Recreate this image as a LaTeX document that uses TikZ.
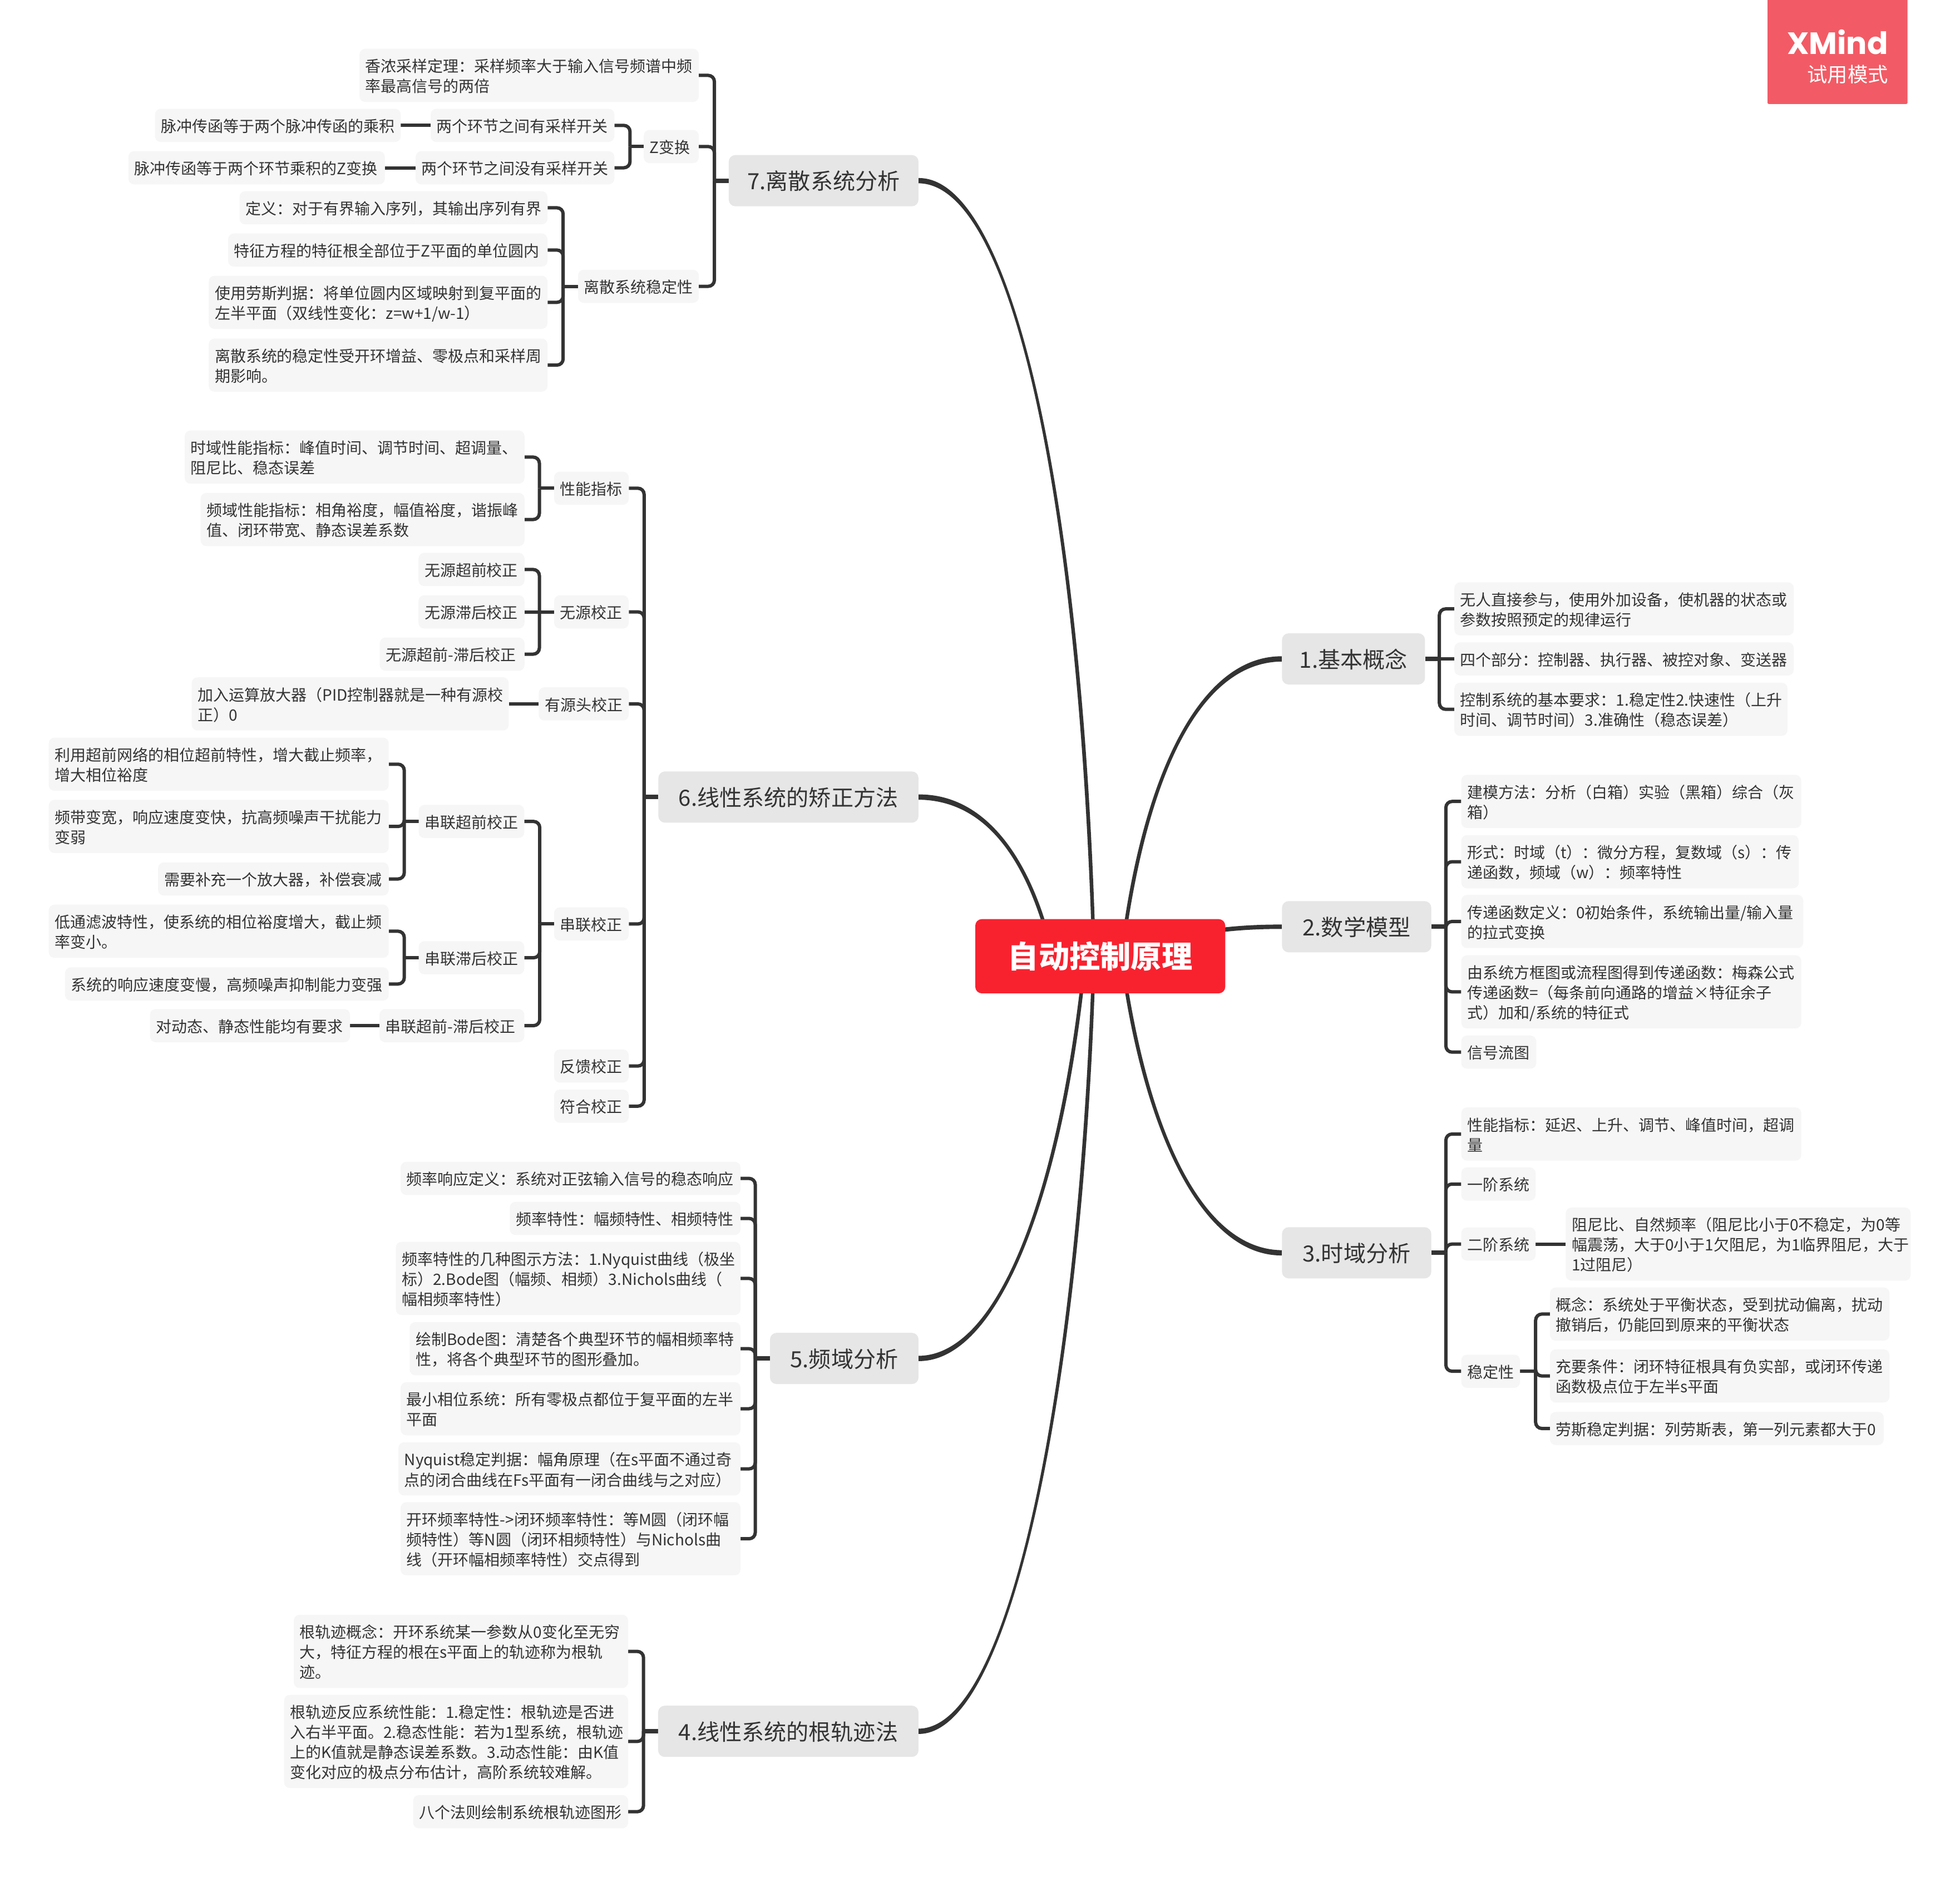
\documentclass[tikz,border=0pt]{standalone}
\usepackage{fontspec}
\usetikzlibrary{calc,backgrounds}
\setmainfont{Noto Sans CJK SC}
\newfontfamily\wmfont{Poppins}
\definecolor{linecol}{HTML}{333333}
\definecolor{leaffill}{HTML}{F6F6F6}
\definecolor{topicfill}{HTML}{E6E6E6}
\definecolor{rootfill}{HTML}{F8222F}
\definecolor{wmfill}{HTML}{F25B65}
\def\ux{2.84528}
\newcommand{\mystrut}{\rule[-0.16\baselineskip]{0pt}{\baselineskip}}
\newcommand{\mystrutb}{\rule[-0.2\baselineskip]{0pt}{\baselineskip}}
\tikzset{
  x=0.1cm,y=-0.1cm,
  leaf/.style={rectangle,rounded corners=13pt,fill=leaffill,text=linecol,inner sep=0pt,align=left,
    font=\fontsize{35.45pt}{45.5pt}\selectfont,execute at begin node=\mystrut,execute at end node=\mystrut},
  topic/.style={rectangle,rounded corners=15pt,fill=topicfill,text=linecol,inner sep=0pt,
    minimum height=116.5pt,font=\fontsize{50.8pt}{68pt}\selectfont,execute at begin node=\mystrutb},
  rootnode/.style={rectangle,rounded corners=15pt,fill=rootfill,text=white,inner sep=0pt,
    font=\fontsize{70pt}{90pt}\selectfont\bfseries,execute at begin node=\mystrutb},
  conn/.style={draw=linecol,line width=7.6pt},
  topconn/.style={draw=linecol,line width=10pt},
  wmbox/.style={rectangle,fill=wmfill,rounded corners=3pt,inner sep=0pt},
  wmtext/.style={text=white,inner sep=0pt},
}
% \leaf{name}{left}{right}{centre y}{number of lines}{text}
\newcommand{\leaf}[6]{%
  \pgfmathsetmacro\lcx{(#2+#3)/2}%
  \pgfmathsetmacro\lw{(#3-#2)*\ux}%
  \pgfmathsetmacro\lh{(26.5+16*(#5-1))*\ux}%
  \pgfmathsetmacro\ltw{(#3-#2-9.6)*\ux}%
  \node[leaf,minimum width=\lw pt,minimum height=\lh pt,text width=\ltw pt] (#1) at (\lcx,#4) {#6};}
% \topicn{name}{left}{right}{centre y}{text}
\newcommand{\topicn}[5]{%
  \pgfmathsetmacro\lcx{(#2+#3)/2}%
  \pgfmathsetmacro\lw{(#3-#2)*\ux}%
  \node[topic,minimum width=\lw pt] (#1) at (\lcx,#4) {#5};}
% connectors: parent stub to spine, spine to child
\newcommand{\stubL}[3][conn]{\draw[#1] (#2.west) -- (#3 |- #2.west);}
\newcommand{\stubR}[3][conn]{\draw[#1] (#2.east) -- (#3 |- #2.east);}
\newcommand{\kidL}[3]{\draw[conn,rounded corners=14pt] (#3 |- #1.west) |- (#2.east);}
\newcommand{\kidR}[3]{\draw[conn,rounded corners=14pt] (#3 |- #1.east) |- (#2.west);}
\newcommand{\kidLs}[3]{\draw[conn] (#3 |- #2.east) -- (#2.east);}
\newcommand{\kidRs}[3]{\draw[conn] (#3 |- #2.west) -- (#2.west);}
% tapered main branch: anchor, control 1, control 2, x offset at root, side
\newcommand{\mainc}[5]{%
  \fill[linecol] ($(#1)+(0,-2.1)$) .. controls ($(#2)+(0,-2.6)$) and ($(#3)+({1.9*#5},0)$) ..
    ($(root.center)+({#4+1.4*#5},0)$) -- ($(root.center)+({#4-1.4*#5},0)$)
    .. controls ($(#3)+({-1.9*#5},0)$) and ($(#2)+(0,2.6)$) .. ($(#1)+(0,2.1)$) -- cycle;}
\begin{document}
\begin{tikzpicture}
\useasboundingbox (0,0) rectangle (1568,1501.2);

% watermark
\node[wmbox,minimum width=318.7pt,minimum height=240pt] (wm) at (1470,41) {};
\node[wmtext,anchor=base east,font=\fontsize{70pt}{90pt}\wmfont\bfseries] (wm1) at (1510.5,43.5) {XMind};
\node[wmtext,anchor=east,font=\fontsize{46pt}{60pt}\selectfont] (wm2) at (1510.5,59.5) {试用模式};

% root
\node[rootnode,minimum width=569pt,minimum height=169pt] (root) at (880.2,764.8) {自动控制原理};

% topics
\topicn{t1}{1025.6}{1140}{527}{1.基本概念}
\topicn{t2}{1025.6}{1145}{741.2}{2.数学模型}
\topicn{t3}{1025.6}{1145}{1002}{3.时域分析}
\topicn{t4}{526.5}{734.8}{1384.7}{4.线性系统的根轨迹法}
\topicn{t5}{616}{734.8}{1086.5}{5.频域分析}
\topicn{t6}{526.7}{734.8}{637.5}{6.线性系统的矫正方法}
\topicn{t7}{583}{734.8}{144.5}{7.离散系统分析}

% topic 1
\leaf{a1}{1163.5}{1435}{487}{2}{无人直接参与，使用外加设备，使机器的状态或\\参数按照预定的规律运行}
\leaf{a2}{1163.5}{1435}{527}{1}{四个部分：控制器、执行器、被控对象、变送器}
\leaf{a3}{1163.5}{1430}{567.3}{2}{控制系统的基本要求：1.稳定性2.快速性（上升\\时间、调节时间）3.准确性（稳态误差）}

% topic 2
\leaf{b1}{1169}{1441}{641}{2}{建模方法：分析（白箱）实验（黑箱）综合（灰\\箱）}
\leaf{b2}{1169}{1439}{689.2}{2}{形式：时域（t）：微分方程，复数域（s）：传\\递函数，频域（w）：频率特性}
\leaf{b3}{1169}{1442.6}{737}{2}{传递函数定义：0初始条件，系统输出量/输入量\\的拉式变换}
\leaf{b4}{1169}{1441}{793.3}{3}{由系统方框图或流程图得到传递函数：梅森公式\\传递函数=（每条前向通路的增益×特征余子\\式）加和/系统的特征式}
\leaf{b5}{1169}{1229}{841.5}{1}{信号流图}

% topic 3
\leaf{c1}{1169}{1441}{907}{2}{性能指标：延迟、上升、调节、峰值时间，超调\\量}
\leaf{c2}{1169}{1228.5}{947}{1}{一阶系统}
\leaf{c3}{1169}{1228.5}{995}{1}{二阶系统}
\leaf{c31}{1252.6}{1528.5}{995}{3}{阻尼比、自然频率（阻尼比小于0不稳定，为0等\\幅震荡，大于0小于1欠阻尼，为1临界阻尼，大于\\1过阻尼）}
\leaf{c4}{1169}{1216}{1096.7}{1}{稳定性}
\leaf{c41}{1240}{1511.6}{1051}{2}{概念：系统处于平衡状态，受到扰动偏离，扰动\\撤销后，仍能回到原来的平衡状态}
\leaf{c42}{1240}{1511.6}{1100.5}{2}{充要条件：闭环特征根具有负实部，或闭环传递\\函数极点位于左半s平面}
\leaf{c43}{1240}{1507}{1142.5}{1}{劳斯稳定判据：列劳斯表，第一列元素都大于0}

% topic 4
\leaf{d1}{235}{502.5}{1320.8}{3}{根轨迹概念：开环系统某一参数从0变化至无穷\\大，特征方程的根在s平面上的轨迹称为根轨\\迹。}
\leaf{d2}{227.3}{502.5}{1392.8}{4}{根轨迹反应系统性能：1.稳定性：根轨迹是否进\\入右半平面。2.稳态性能：若为1型系统，根轨迹\\上的K值就是静态误差系数。3.动态性能：由K值\\变化对应的极点分布估计，高阶系统较难解。}
\leaf{d3}{330.5}{502.5}{1449}{1}{八个法则绘制系统根轨迹图形}

% topic 5
\leaf{e1}{320.5}{592.4}{942.5}{1}{频率响应定义：系统对正弦输入信号的稳态响应}
\leaf{e2}{407.8}{592.4}{974.5}{1}{频率特性：幅频特性、相频特性}
\leaf{e3}{316.7}{592.4}{1022.5}{3}{频率特性的几种图示方法：1.Nyquist曲线（极坐\\标）2.Bode图（幅频、相频）3.Nichols曲线（\\幅相频率特性）}
\leaf{e4}{327.7}{592.4}{1078.7}{2}{绘制Bode图：清楚各个典型环节的幅相频率特\\性，将各个典型环节的图形叠加。}
\leaf{e5}{320.5}{592.4}{1126.7}{2}{最小相位系统：所有零极点都位于复平面的左半\\平面}
\leaf{e6}{318.7}{592.4}{1174.8}{2}{Nyquist稳定判据：幅角原理（在s平面不通过奇\\点的闭合曲线在Fs平面有一闭合曲线与之对应）}
\leaf{e7}{320.5}{592.4}{1230.7}{3}{开环频率特性->闭环频率特性：等M圆（闭环幅\\频特性）等N圆（闭环相频特性）与Nichols曲\\线（开环幅相频率特性）交点得到}

% topic 6
\leaf{f1}{443.3}{503}{390.5}{1}{性能指标}
\leaf{f11}{147.8}{419.6}{365.6}{2}{时域性能指标：峰值时间、调节时间、超调量、\\阻尼比、稳态误差}
\leaf{f12}{160.5}{419.6}{415.5}{2}{频域性能指标：相角裕度，幅值裕度，谐振峰\\值、闭环带宽、静态误差系数}
\leaf{f2}{443.3}{503}{489.4}{1}{无源校正}
\leaf{f21}{334.8}{419.6}{455.5}{1}{无源超前校正}
\leaf{f22}{334.8}{419.6}{489.4}{1}{无源滞后校正}
\leaf{f23}{303.8}{419.6}{523.2}{1}{无源超前-滞后校正}
\leaf{f3}{431}{503}{563}{1}{有源头校正}
\leaf{f31}{153.4}{407}{563}{2}{加入运算放大器（PID控制器就是一种有源校\\正）0}
\leaf{f4}{443.3}{503}{739}{1}{串联校正}
\leaf{f41}{335}{419.4}{657}{1}{串联超前校正}
\leaf{f411}{39}{311}{611.2}{2}{利用超前网络的相位超前特性，增大截止频率，\\增大相位裕度}
\leaf{f412}{39}{311}{661}{2}{频带变宽，响应速度变快，抗高频噪声干扰能力\\变弱}
\leaf{f413}{126.5}{311}{703}{1}{需要补充一个放大器，补偿衰减}
\leaf{f42}{335}{419.4}{766}{1}{串联滞后校正}
\leaf{f421}{39}{311}{744.8}{2}{低通滤波特性，使系统的相位裕度增大，截止频\\率变小。}
\leaf{f422}{52}{311}{787}{1}{系统的响应速度变慢，高频噪声抑制能力变强}
\leaf{f43}{303.6}{419.4}{820.3}{1}{串联超前-滞后校正}
\leaf{f431}{120}{280}{820.3}{1}{对动态、静态性能均有要求}
\leaf{f5}{443.3}{503}{852.6}{1}{反馈校正}
\leaf{f6}{443.3}{503}{884.7}{1}{符合校正}

% topic 7
\leaf{g1}{287.6}{559}{60.3}{2}{香浓采样定理：采样频率大于输入信号频谱中频\\率最高信号的两倍}
\leaf{g2}{515}{559}{117.2}{1}{Z变换}
\leaf{g21}{344.5}{491.5}{100.3}{1}{两个环节之间有采样开关}
\leaf{g211}{124}{320.6}{100.3}{1}{脉冲传函等于两个脉冲传函的乘积}
\leaf{g22}{332.5}{491.5}{134.2}{1}{两个环节之间没有采样开关}
\leaf{g221}{102.7}{307.9}{134.2}{1}{脉冲传函等于两个环节乘积的Z变换}
\leaf{g3}{462.5}{559}{229}{1}{离散系统稳定性}
\leaf{g31}{191.6}{438}{166.2}{1}{定义：对于有界输入序列，其输出序列有界}
\leaf{g32}{182.5}{438}{200}{1}{特征方程的特征根全部位于Z平面的单位圆内}
\leaf{g33}{167}{438}{241.8}{2}{使用劳斯判据：将单位圆内区域映射到复平面的\\左半平面（双线性变化：z=w+1/w-1）}
\leaf{g34}{167}{438}{292}{2}{离散系统的稳定性受开环增益、零极点和采样周\\期影响。}

% spines
\coordinate (s1) at (1151.5,0);
\coordinate (s2) at (1156.7,0);
\coordinate (s3) at (1156.7,0);
\coordinate (s34) at (1228.5,0);
\coordinate (s4) at (514.8,0);
\coordinate (s5) at (604.2,0);
\coordinate (s6) at (515.3,0);
\coordinate (s61) at (431.5,0);
\coordinate (s64) at (431.8,0);
\coordinate (s641) at (323.4,0);
\coordinate (s7) at (571.5,0);
\coordinate (s72) at (504,0);
\coordinate (s73) at (450.5,0);

\begin{scope}[on background layer]
\fill[white] (0,0) rectangle (1568,1501.2);
% main branches
\mainc{t7.east}{810,144.5}{865,400}{-5}{1}
\mainc{t6.east}{790,637.5}{825,690}{-38}{1}
\mainc{t1.west}{960,527}{915,620}{17}{-1}
\mainc{t3.west}{960,1002}{915,900}{17}{1}
\mainc{t5.east}{800,1086.5}{850,950}{-12}{-1}
\mainc{t4.east}{810,1384.7}{865,1100}{-5}{-1}
\draw[topconn] (root.center) .. controls (950,745) and (985,741.2) .. (t2.west);

% topic 1
\stubR[topconn]{t1}{s1}
\kidR{t1}{a1}{s1}
\kidRs{t1}{a2}{s1}
\kidR{t1}{a3}{s1}
% topic 2
\stubR[topconn]{t2}{s2}
\kidR{t2}{b1}{s2}
\kidR{t2}{b2}{s2}
\kidR{t2}{b3}{s2}
\kidR{t2}{b4}{s2}
\kidR{t2}{b5}{s2}
% topic 3
\stubR[topconn]{t3}{s3}
\kidR{t3}{c1}{s3}
\kidR{t3}{c2}{s3}
\kidR{t3}{c3}{s3}
\kidR{t3}{c4}{s3}
\draw[conn] (c3.east) -- (c31.west);
\stubR{c4}{s34}
\kidR{c4}{c41}{s34}
\kidR{c4}{c42}{s34}
\kidR{c4}{c43}{s34}
% topic 4
\stubL[topconn]{t4}{s4}
\kidL{t4}{d1}{s4}
\kidL{t4}{d2}{s4}
\kidL{t4}{d3}{s4}
% topic 5
\stubL[topconn]{t5}{s5}
\kidL{t5}{e1}{s5}
\kidL{t5}{e2}{s5}
\kidL{t5}{e3}{s5}
\kidL{t5}{e4}{s5}
\kidL{t5}{e5}{s5}
\kidL{t5}{e6}{s5}
\kidL{t5}{e7}{s5}
% topic 6
\stubL[topconn]{t6}{s6}
\kidL{t6}{f1}{s6}
\kidL{t6}{f2}{s6}
\kidL{t6}{f3}{s6}
\kidL{t6}{f4}{s6}
\kidL{t6}{f5}{s6}
\kidL{t6}{f6}{s6}
\stubL{f1}{s61}
\kidL{f1}{f11}{s61}
\kidL{f1}{f12}{s61}
\stubL{f2}{s61}
\kidL{f2}{f21}{s61}
\kidLs{f2}{f22}{s61}
\kidL{f2}{f23}{s61}
\draw[conn] (f3.west) -- (f31.east);
\stubL{f4}{s64}
\kidL{f4}{f41}{s64}
\kidL{f4}{f42}{s64}
\kidL{f4}{f43}{s64}
\stubL{f41}{s641}
\kidL{f41}{f411}{s641}
\kidL{f41}{f412}{s641}
\kidL{f41}{f413}{s641}
\stubL{f42}{s641}
\kidL{f42}{f421}{s641}
\kidL{f42}{f422}{s641}
\draw[conn] (f43.west) -- (f431.east);
% topic 7
\stubL[topconn]{t7}{s7}
\kidL{t7}{g1}{s7}
\kidL{t7}{g2}{s7}
\kidL{t7}{g3}{s7}
\stubL{g2}{s72}
\kidL{g2}{g21}{s72}
\kidL{g2}{g22}{s72}
\draw[conn] (g21.west) -- (g211.east);
\draw[conn] (g22.west) -- (g221.east);
\stubL{g3}{s73}
\kidL{g3}{g31}{s73}
\kidL{g3}{g32}{s73}
\kidL{g3}{g33}{s73}
\kidL{g3}{g34}{s73}
\end{scope}
\end{tikzpicture}
\end{document}
